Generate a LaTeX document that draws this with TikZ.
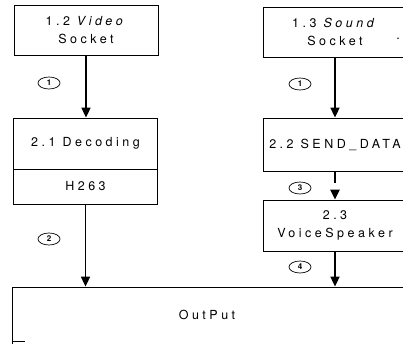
\documentclass[tikz,border=0pt]{standalone}
\usepackage{fontspec}
\setmainfont{TeX Gyre Heros}[LetterSpace=28]
\usetikzlibrary{arrows.meta,shapes.geometric}
\begin{document}
\begin{tikzpicture}[x=1pt,y=-1pt,
  box/.style={draw,line width=0.8pt,minimum width=144pt,inner sep=0pt,align=center,font=\fontsize{12.5}{18}\selectfont},
  num/.style={draw,ellipse,line width=0.7pt,minimum width=22pt,minimum height=12pt,inner sep=0pt,font=\fontsize{8}{8}\selectfont\bfseries\addfontfeatures{LetterSpace=0}},
  flow/.style={line width=1.7pt,-{Triangle[length=10pt,width=9pt]}},
  plain/.style={font=\fontsize{12.5}{18}\selectfont}]
\useasboundingbox (0,0) rectangle (403,343);
\clip (0,0) rectangle (403,343);
% left column
\node[box,minimum height=50pt] (vs) at (86,30) {1.2 \textit{Video}\\Socket};
\node[box,minimum height=51pt] (dec) at (85.5,143.5) {2.1 Decoding};
\node[box,minimum height=35pt] (h263) at (85.5,186.5) {H263};
% right column
\node[box,minimum height=50pt] (ss) at (335,32) {1.3 \textit{Sound}\\Socket};
\node[plain] (dot) at (398,39) {.};
\node[box,minimum height=53pt] (sd) at (335,144.5) {2.2 SEND\_DATA};
\node[box,minimum height=51pt] (vsp) at (335,225.5) {2.3\\VoiceSpeaker};
% output
\node[draw,line width=0.8pt,minimum width=428pt,minimum height=73pt,inner sep=0pt] (out) at (226,323.5) {};
\node[plain] (outtext) at (207,315) {OutPut};
\draw[line width=0.8pt] (out.south west |- 0,341) -- ++(13,0);
% connectors
\draw[flow] (vs.south) -- (vs.south |- dec.north);
\draw[flow] (h263.south) -- (h263.south |- out.north);
\draw[flow] (ss.south) -- (ss.south |- sd.north);
\draw[flow,line width=2.6pt,dash pattern=on 12pt off 30pt] (sd.south) -- (sd.south |- vsp.north);
\draw[flow] (vsp.south) -- (vsp.south |- out.north);
% step numbers
\node[num] (n1a) at (49,83) {1};
\node[num] (n2) at (49,239) {2};
\node[num] (n1b) at (300,84) {1};
\node[num] (n3) at (300,188) {3};
\node[num] (n4) at (300,267) {4};
\end{tikzpicture}
\end{document}
